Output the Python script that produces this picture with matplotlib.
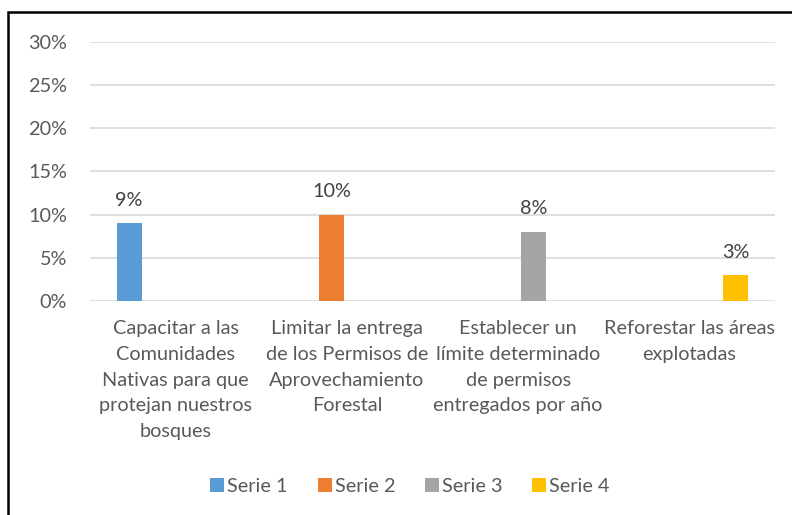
import numpy as np
import matplotlib
matplotlib.use("Agg")
import matplotlib.pyplot as plt
from matplotlib.patches import Patch, Rectangle
from matplotlib.ticker import FuncFormatter, MultipleLocator
from matplotlib import font_manager

categories = [
    "Capacitar a las\nComunidades\nNativas para que\nprotejan nuestros\nbosques",
    "Limitar la entrega\nde los Permisos de\nAprovechamiento\nForestal",
    "Establecer un\nlímite determinado\nde permisos\nentregados por año",
    "Reforestar las áreas\nexplotadas",
]
series_names = ["Serie 1", "Serie 2", "Serie 3", "Serie 4"]
serie1 = [0.09, np.nan, np.nan, np.nan]
serie2 = [np.nan, 0.10, np.nan, np.nan]
serie3 = [np.nan, np.nan, 0.08, np.nan]
serie4 = [np.nan, np.nan, np.nan, 0.03]
colors = ["#5B9BD5", "#ED7D31", "#A5A5A5", "#FFC000"]

avail = {f.name for f in font_manager.fontManager.ttflist}
fam = [f for f in ["Liberation Sans Narrow", "Lato", "DejaVu Sans"] if f in avail]
plt.rcParams["font.family"] = fam

W, H = 792, 515
fig = plt.figure(figsize=(W / 100, H / 100), dpi=100)
ax = fig.add_axes([90 / W, 214 / H, 685 / W, 259 / H])

fs = 14.3
text_col = "#595959"
x = np.arange(len(categories))
slot = 0.181
bw = 0.146
all_series = [serie1, serie2, serie3, serie4]
for s, vals in enumerate(all_series):
    pos = x + (s - 1.5) * slot
    ax.bar(pos, vals, width=bw, color=colors[s], zorder=3, label=series_names[s])
    for p, v in zip(pos, vals):
        if not np.isnan(v):
            ax.annotate(f"{v*100:.0f}%", (p, v), xytext=(0, 10.5), textcoords="offset points",
                        ha="center", va="bottom", fontsize=fs, color="#404040")

ax.set_xlim(-0.5, 3.5)
ax.set_ylim(0, 0.30)
ax.yaxis.set_major_locator(MultipleLocator(0.05))
ax.yaxis.set_major_formatter(FuncFormatter(lambda v, _: f"{v*100:.0f}%"))
ax.grid(axis="y", color="#D9D9D9", linewidth=1.2, zorder=0)
ax.set_axisbelow(True)
for sp in ax.spines.values():
    sp.set_visible(False)
ax.tick_params(axis="y", length=0, pad=16.5, labelsize=fs, labelcolor=text_col)
ax.set_xticks(x)
ax.set_xticklabels(categories, fontsize=fs, color=text_col, linespacing=1.62,
                   ha="center", multialignment="center")
ax.tick_params(axis="x", length=0, pad=14)

handles = [Patch(facecolor=c, edgecolor="none") for c in colors]
fig.legend(handles, series_names, loc="center", bbox_to_anchor=(410 / W, 1 - 486 / H),
           ncol=4, frameon=False, fontsize=fs, handlelength=0.7, handleheight=0.7,
           handletextpad=0.15, columnspacing=1.5, labelcolor=text_col)

# chart border (left and top visible)
fig.add_artist(Rectangle((8 / W, -0.2), 1.5, 1.2 - 12 / H, transform=fig.transFigure,
                         fill=False, edgecolor="black", linewidth=1.8))

fig.savefig("out.png", dpi=100)
